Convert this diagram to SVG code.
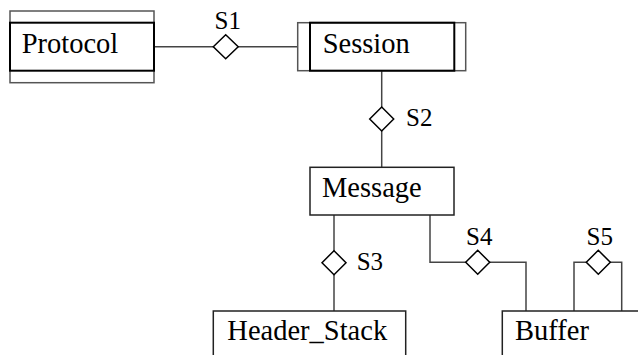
<svg xmlns="http://www.w3.org/2000/svg" width="638" height="355" viewBox="0 0 638 355">
<style>
.outer{fill:none;stroke:#555;stroke-width:1.5}
.inner{fill:none;stroke:#000;stroke-width:2}
.box{fill:#fff;stroke:#222;stroke-width:1.5}
.name{font-family:'Liberation Serif','Times New Roman',Times,serif;font-size:28.5px;fill:#000}
.lbl{font-family:'Liberation Serif','Times New Roman',Times,serif;font-size:25px;fill:#000}
.conn{fill:none;stroke:#444;stroke-width:1.5}
.dia{fill:#fff;stroke:#000;stroke-width:1.5}
</style>
<rect width="638" height="355" fill="#fff"/>
<g id="connectors">
<path class="conn" d="M154,46.7 H298"/>
<path class="conn" d="M381.7,70.7 V167.3"/>
<path class="conn" d="M334,215 V311"/>
<path class="conn" d="M430,215 V262.3 H526 V311"/>
<path class="conn" d="M574,311 V262.3 H621.7 V311"/>
<polygon class="dia" points="213.3,46.7 225.7,34.7 238.2,46.7 225.7,58.7"/>
<polygon class="dia" points="369.7,119 381.7,107 393.7,119 381.7,131"/>
<polygon class="dia" points="322,262.7 334,250.7 346,262.7 334,274.7"/>
<polygon class="dia" points="465.7,262.3 477.7,250.3 489.7,262.3 477.7,274.3"/>
<polygon class="dia" points="586.3,262.3 598.3,250.3 610.3,262.3 598.3,274.3"/>
<text class="lbl" x="214.5" y="28.5">S1</text>
<text class="lbl" x="406" y="125.5">S2</text>
<text class="lbl" x="356.7" y="269.5">S3</text>
<text class="lbl" x="466" y="245">S4</text>
<text class="lbl" x="586.5" y="245">S5</text>
</g>
<g id="protocol">
<rect class="outer" x="10" y="11" width="144" height="71.7"/>
<rect class="inner" x="10" y="22.7" width="144" height="48"/>
<text class="name" x="21.7" y="52.7">Protocol</text>
</g>
<g id="session">
<rect class="outer" x="297.7" y="22.7" width="168" height="48"/>
<rect class="inner" x="310" y="22.7" width="144.3" height="48"/>
<text class="name" x="322.7" y="53">Session</text>
</g>
<g id="message">
<rect class="box" x="310" y="167.3" width="144" height="47.7"/>
<text class="name" x="322" y="196.7">Message</text>
</g>
<g id="header_stack">
<rect class="box" x="213.3" y="311" width="192.4" height="70"/>
<text class="name" x="227.3" y="340">Header_Stack</text>
</g>
<g id="buffer">
<rect class="box" x="502.3" y="311" width="160" height="70"/>
<text class="name" x="515" y="340">Buffer</text>
</g>
</svg>
